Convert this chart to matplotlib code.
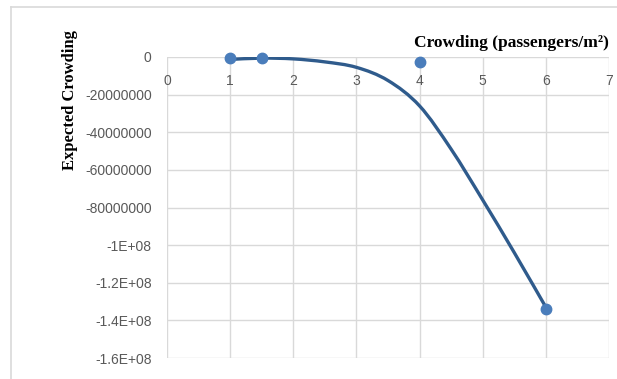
import matplotlib
matplotlib.use("Agg")
import matplotlib.pyplot as plt
from matplotlib.path import Path
from matplotlib.patches import PathPatch
from matplotlib.lines import Line2D
from matplotlib.ticker import FixedLocator, FixedFormatter

# Observed crowding values
obs_x = [1, 1.5, 4, 6]
obs_y = [-0.5e6, -0.6e6, -2.5e6, -1.34e8]

# Expected crowding curve
curve_x = [1, 1.5, 2, 2.5, 3, 3.5, 4, 4.5, 5, 5.5, 6]
curve_y = [-1.3e6, -0.6e6, -1.0e6, -2.6e6, -5.5e6, -12.5e6, -26e6,
           -49e6, -76e6, -104e6, -133e6]

x_ticks = [0, 1, 2, 3, 4, 5, 6, 7]
y_ticks = [0, -2e7, -4e7, -6e7, -8e7, -1e8, -1.2e8, -1.4e8, -1.6e8]
y_tick_labels = ["0", "-20000000", "-40000000", "-60000000", "-80000000",
                 "-1E+08", "-1.2E+08", "-1.4E+08", "-1.6E+08"]

plt.rcParams["font.family"] = "Liberation Sans"
plt.rcParams["font.size"] = 10

W, H = 617, 379
fig = plt.figure(figsize=(W / 100, H / 100), dpi=100)

# chart frame (left and top edges visible)
frame_c = "#d9d9d9"
fig.add_artist(Line2D([11 / W, 11 / W], [0, 1 - 7 / H], color=frame_c, lw=1.2,
                      transform=fig.transFigure))
fig.add_artist(Line2D([11 / W, 1], [1 - 7 / H, 1 - 7 / H], color=frame_c, lw=1.2,
                      transform=fig.transFigure))

left, right, top, bottom = 167, 609, 57, 358
ax = fig.add_axes([left / W, (H - bottom) / H, (right - left) / W, (bottom - top) / H])
ax.set_xlim(0, 7)
ax.set_ylim(-1.6e8, 0)

for s in ax.spines.values():
    s.set_visible(False)

grid_c = "#d9d9d9"
ax.xaxis.set_major_locator(FixedLocator(x_ticks))
ax.yaxis.set_major_locator(FixedLocator(y_ticks))
ax.yaxis.set_major_formatter(FixedFormatter(y_tick_labels))
ax.grid(True, color=grid_c, lw=1.0)
ax.set_axisbelow(True)

tick_c = "#595959"
ax.tick_params(axis="y", length=0, pad=11, labelsize=10, labelcolor=tick_c)
ax.tick_params(axis="x", length=0, top=True, labeltop=True, bottom=False,
               labelbottom=False, pad=-22, labelsize=10, labelcolor=tick_c)

# smooth curve through the curve values (Catmull-Rom as cubic Bezier)
pts = list(zip(curve_x, curve_y))
n = len(pts)
verts = [pts[0]]
codes = [Path.MOVETO]
for i in range(n - 1):
    p0 = pts[i - 1] if i > 0 else pts[i]
    p1 = pts[i]
    p2 = pts[i + 1]
    p3 = pts[i + 2] if i + 2 < n else pts[i + 1]
    c1 = (p1[0] + (p2[0] - p0[0]) / 6, p1[1] + (p2[1] - p0[1]) / 6)
    c2 = (p2[0] - (p3[0] - p1[0]) / 6, p2[1] - (p3[1] - p1[1]) / 6)
    verts += [c1, c2, p2]
    codes += [Path.CURVE4] * 3
ax.add_patch(PathPatch(Path(verts, codes), fill=False, edgecolor="#2f5b8c",
                       lw=2.4, capstyle="round", zorder=3))

ax.plot(obs_x, obs_y, linestyle="none", marker="o", markersize=7.5,
        color="#4a7dbb", zorder=4, clip_on=False)

ax.set_ylabel("Expected Crowding", fontfamily="Liberation Serif",
              fontweight="bold", fontsize=12, color="black")
ax.yaxis.set_label_coords(-(left - 78) / (right - left), 1 - (100 - top) / (bottom - top))

fig.text(609 / W, 1 - 43 / H, "Crowding (passengers/m²)", ha="right", va="center",
         fontfamily="Liberation Serif", fontweight="bold", fontsize=12.5)

fig.savefig("out.png", dpi=100)
